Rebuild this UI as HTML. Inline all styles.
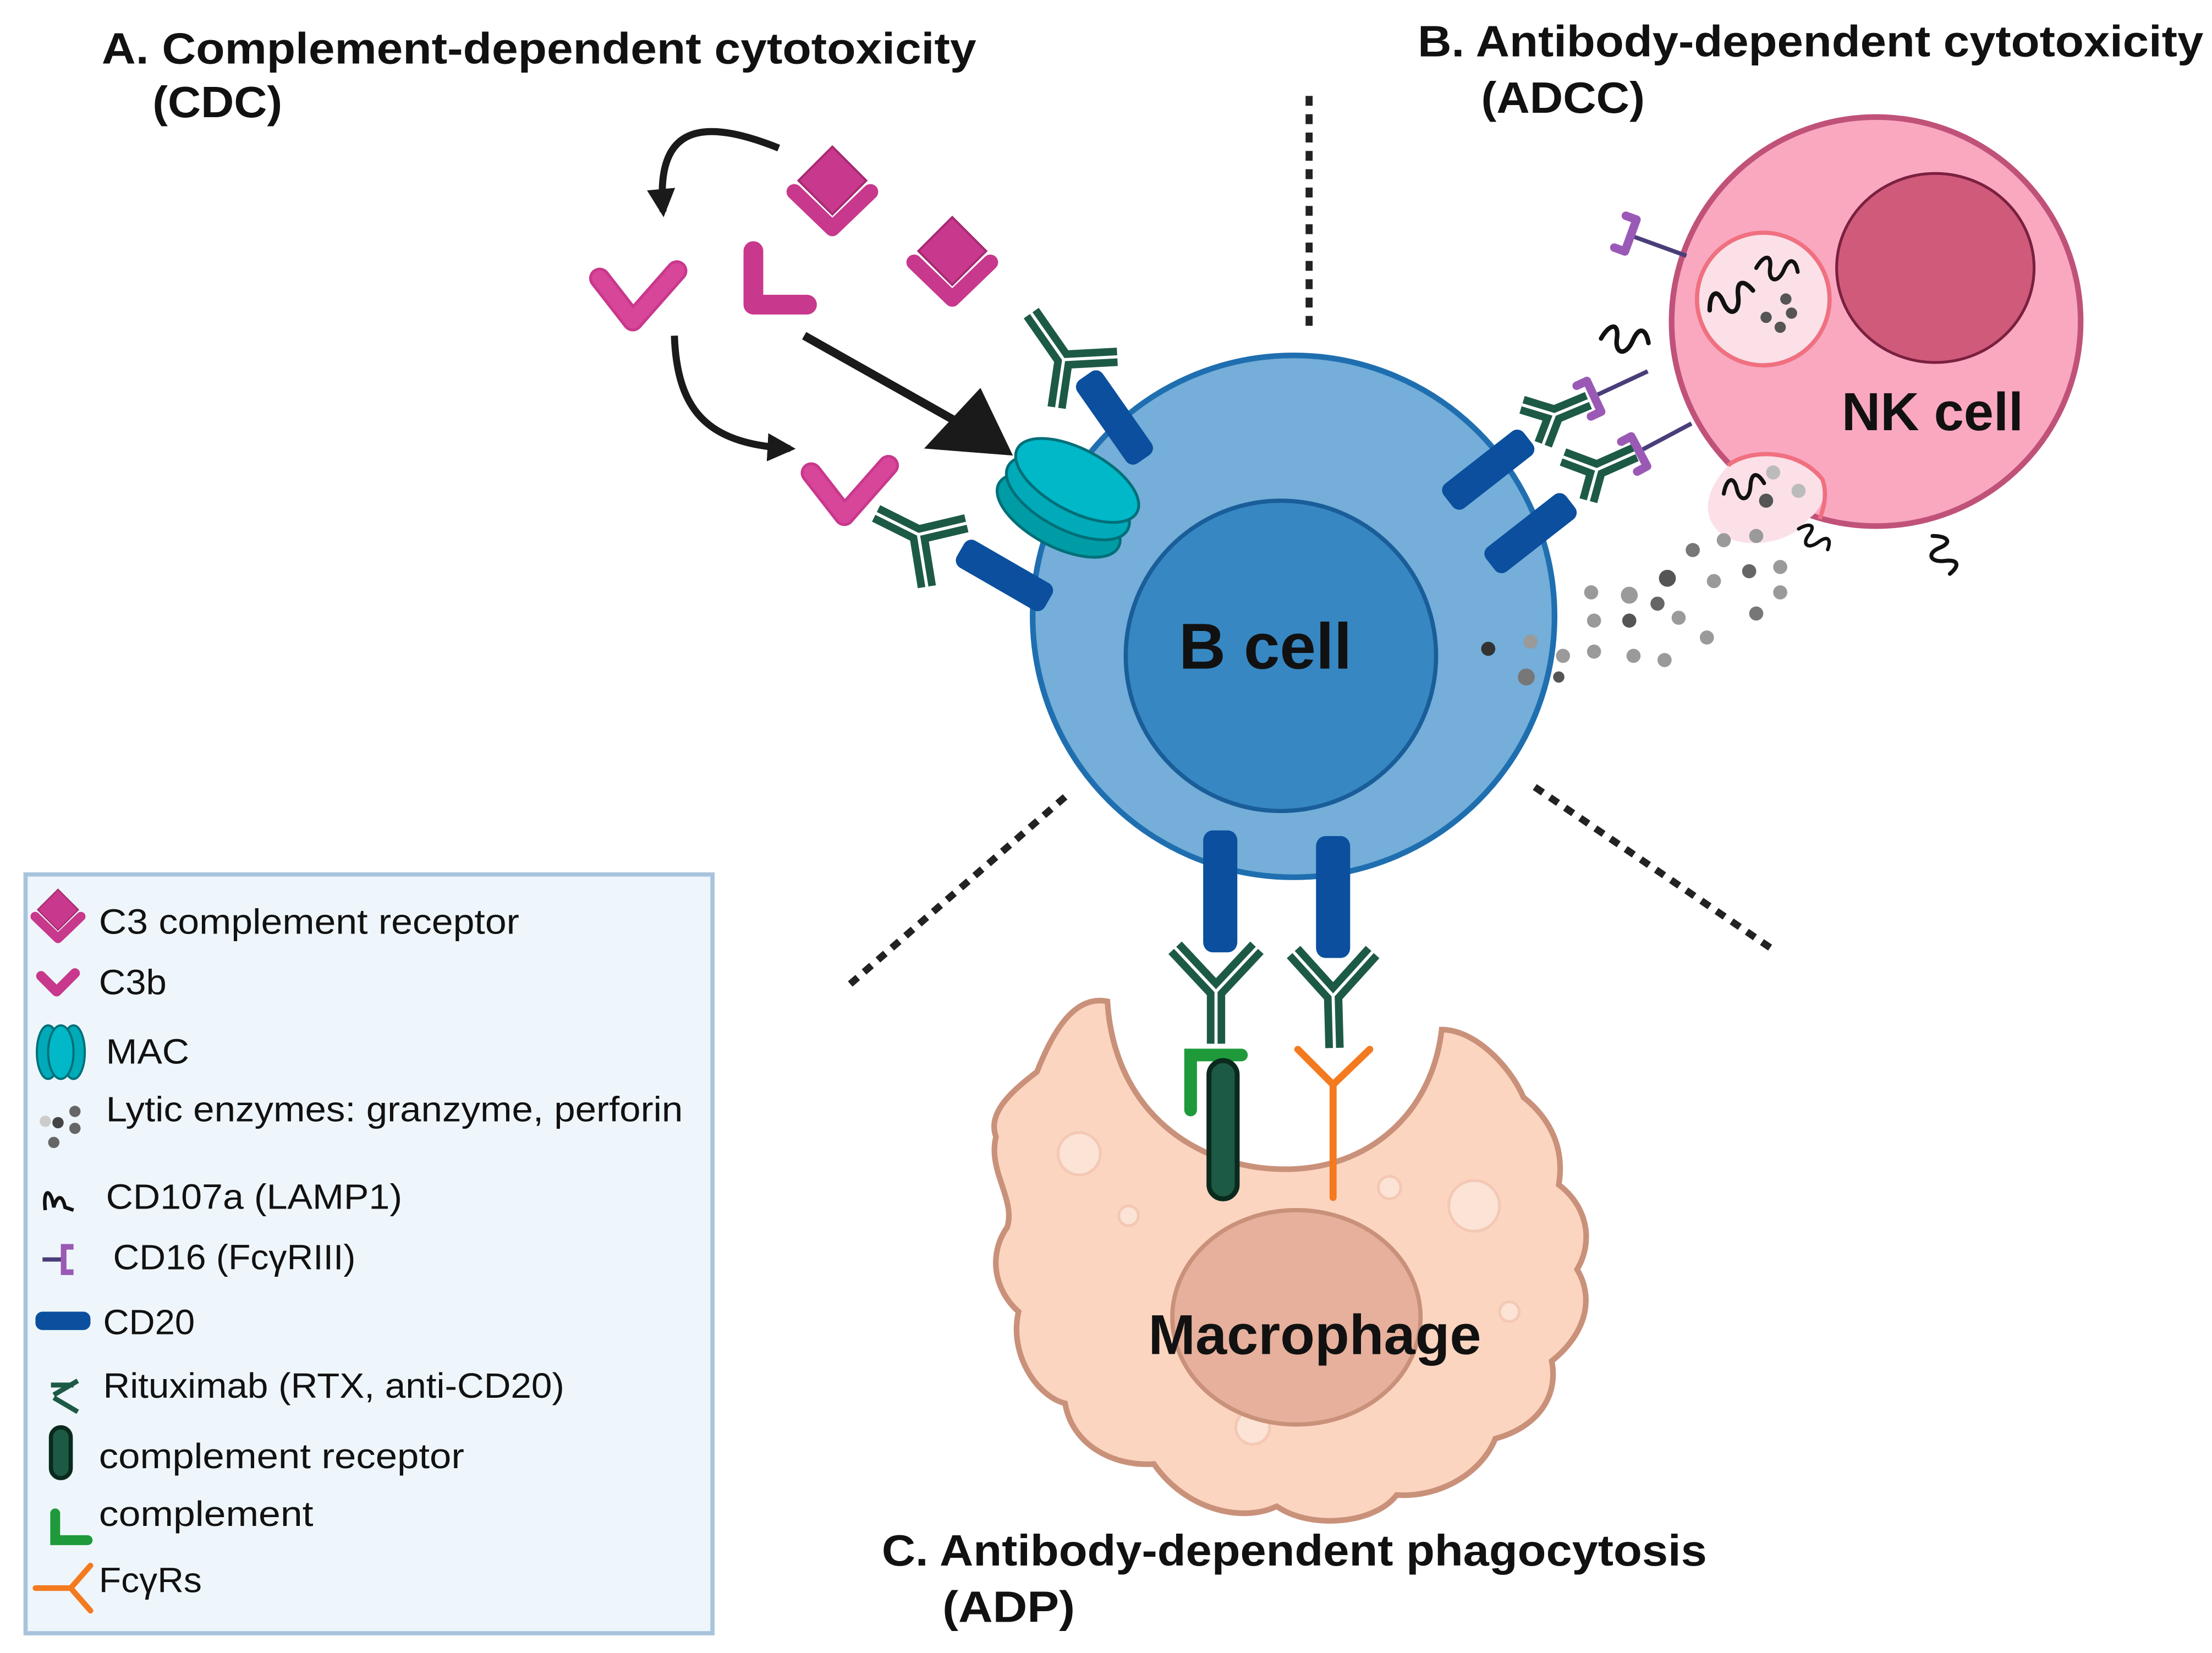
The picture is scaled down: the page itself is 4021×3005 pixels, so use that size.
<!DOCTYPE html>
<html><head><meta charset="utf-8"><style>
html,body{margin:0;padding:0;background:#fff;}
svg{display:block;}
text{font-family:"Liberation Sans",sans-serif;}
</style></head><body>
<svg width="4021" height="3005" viewBox="0 0 1568 1172" xmlns="http://www.w3.org/2000/svg">
<defs>
<g id="cd20"><rect x="-11" y="-36" width="22" height="72" rx="6" fill="#0b4f9e"/></g>
<g id="c3b"><path d="M-32,-22 L-6,6 L22,-32" fill="none" stroke="#c8388c" stroke-width="15" stroke-linejoin="round" stroke-linecap="round"/><path d="M-32,-22 L-6,6 L22,-32" fill="none" stroke="#d8469a" stroke-width="11" stroke-linejoin="round" stroke-linecap="round"/></g>
<g id="c3r"><rect x="-17" y="-17" width="34" height="34" transform="rotate(45)" fill="#c8388c" stroke="#a52a72" stroke-width="1.5"/><path d="M-27,8 L0,34 L27,8" fill="none" stroke="#c8388c" stroke-width="11" stroke-linejoin="round" stroke-linecap="round"/></g>
<g id="cd16"><path d="M0,0 L42,0" stroke="#4a3d7a" stroke-width="3"/><path d="M-8,-12 L0,-12 L0,12 L-8,12" fill="none" stroke="#9b59b6" stroke-width="6" stroke-linejoin="round" stroke-linecap="round"/></g>
<g id="wig"><path d="M0,0 C8,-14 16,-14 14,0 C12,14 22,16 28,2 C34,-12 40,-8 42,4" fill="none" stroke="#111" stroke-width="4" stroke-linecap="round"/></g>
<marker id="ah" viewBox="0 0 10 10" refX="8" refY="5" markerWidth="4" markerHeight="4" orient="auto"><path d="M0,0 L10,5 L0,10 z" fill="#1a1a1a"/></marker>
</defs>

<!-- titles -->
<text x="72" y="45" font-size="31" font-weight="bold" fill="#111" textLength="620" lengthAdjust="spacingAndGlyphs">A. Complement-dependent cytotoxicity</text>
<text x="108" y="83" font-size="31" font-weight="bold" fill="#111" textLength="92" lengthAdjust="spacingAndGlyphs">(CDC)</text>
<text x="1005" y="40" font-size="31" font-weight="bold" fill="#111" textLength="557" lengthAdjust="spacingAndGlyphs">B. Antibody-dependent cytotoxicity</text>
<text x="1050" y="80" font-size="31" font-weight="bold" fill="#111" textLength="116" lengthAdjust="spacingAndGlyphs">(ADCC)</text>
<text x="625" y="1110" font-size="31" font-weight="bold" fill="#111" textLength="585" lengthAdjust="spacingAndGlyphs">C. Antibody-dependent phagocytosis</text>
<text x="668" y="1150" font-size="31" font-weight="bold" fill="#111" textLength="94" lengthAdjust="spacingAndGlyphs">(ADP)</text>

<!-- dotted lines -->
<g stroke="#222" stroke-width="5" stroke-dasharray="7 6">
<line x1="928" y1="68" x2="928" y2="232"/>
<line x1="755" y1="565" x2="600" y2="700"/>
<line x1="1088" y1="558" x2="1255" y2="672"/>
</g>

<!-- macrophage -->
<path d="M785,710 C760,705 745,735 735,760 C715,775 700,790 706,806 C700,830 720,850 714,870 C700,890 705,915 722,930 C715,960 735,990 755,995 C760,1025 790,1040 818,1038 C840,1070 880,1080 905,1068 C930,1085 975,1080 990,1060 C1020,1062 1050,1045 1060,1020 C1090,1012 1105,990 1100,965 C1125,945 1130,920 1118,900 C1130,880 1125,855 1105,840 C1110,810 1095,790 1080,778 C1070,755 1045,730 1022,730 C1015,790 970,829 911,829 C850,829 790,790 785,710 Z" fill="#fcd5c0" stroke="#c9917a" stroke-width="4"/>
<g fill="#fbe3d6" stroke="#f4c8b4" stroke-width="2">
<circle cx="765" cy="818" r="15"/><circle cx="1045" cy="855" r="18"/><circle cx="888" cy="1012" r="12"/><circle cx="985" cy="842" r="8"/><circle cx="800" cy="862" r="7"/><circle cx="1070" cy="930" r="7"/></g>
<ellipse cx="919" cy="934" rx="88" ry="76" fill="#e6b09c" stroke="#c9917a" stroke-width="3"/>
<text x="932" y="960" font-size="40" font-weight="bold" fill="#111" text-anchor="middle" textLength="236" lengthAdjust="spacingAndGlyphs">Macrophage</text>

<!-- B cell -->
<circle cx="917" cy="437" r="185" fill="#74aed9" stroke="#1f6fb0" stroke-width="4"/>
<circle cx="908" cy="465" r="110" fill="#3787c2" stroke="#1a5e99" stroke-width="3"/>
<text x="897" y="474" font-size="46" font-weight="bold" fill="#111" text-anchor="middle">B cell</text>

<!-- CD20 -->
<use href="#cd20" transform="translate(790,296) rotate(-35)"/>
<use href="#cd20" transform="translate(712,408) rotate(-60)"/>
<use href="#cd20" transform="translate(1055,333) rotate(52)"/>
<use href="#cd20" transform="translate(1085,378) rotate(52)"/>
<use href="#cd20" transform="translate(865,632) scale(1.1,1.2)"/>
<use href="#cd20" transform="translate(945,636) scale(1.1,1.2)"/>

<!-- MAC -->
<g transform="translate(757,353) rotate(28)">
<ellipse cx="0" cy="14" rx="48" ry="22" fill="#009ca6" stroke="#006f78" stroke-width="2"/>
<ellipse cx="0" cy="0" rx="48" ry="22" fill="#00aab8" stroke="#006f78" stroke-width="2"/>
<ellipse cx="0" cy="-14" rx="48" ry="22" fill="#00b8c8" stroke="#006f78" stroke-width="2"/>
</g>

<!-- antibodies: thick green with white centre line -->
<g fill="none" stroke-linecap="butt" stroke-linejoin="miter">
<g stroke="#1d5a45" stroke-width="13">
<path d="M749,289 L754,255 L731,222 M754,255 L792,253"/>
<path d="M657,416 L651,379 L621,364 M651,379 L685,371"/>
<path d="M1094,315 L1102,294 L1079,287 M1102,294 L1126,284"/>
<path d="M1126,355 L1132,333 L1108,324 M1132,333 L1159,321"/>
<path d="M862,740 L862,703 L833,672 M862,703 L891,672"/>
<path d="M946,743 L945,706 L917,675 M945,706 L973,675"/>
</g>
<g stroke="#fff" stroke-width="2.2">
<path d="M749,289 L754,255 L731,222 M754,255 L792,253"/>
<path d="M657,416 L651,379 L621,364 M651,379 L685,371"/>
<path d="M1094,315 L1102,294 L1079,287 M1102,294 L1126,284"/>
<path d="M1126,355 L1132,333 L1108,324 M1132,333 L1159,321"/>
<path d="M862,740 L862,703 L833,672 M862,703 L891,672"/>
<path d="M946,743 L945,706 L917,675 M945,706 L973,675"/>
</g>
</g>

<!-- complement receptor and complement, FcgR -->
<path d="M844,787 V748 H880" fill="none" stroke="#1e9a3a" stroke-width="9" stroke-linecap="round"/>
<rect x="857" y="752" width="20" height="98" rx="10" fill="#1d5a45" stroke="#0a2a1e" stroke-width="3.5"/>
<path d="M945,849 V769 M920,744 L945,769 L971,744" fill="none" stroke="#f47a20" stroke-width="5" stroke-linecap="round" stroke-linejoin="round"/>

<!-- C3 shapes & arrows -->
<use href="#c3r" transform="translate(590,128)"/>
<use href="#c3r" transform="translate(675,178)"/>
<use href="#c3b" transform="translate(455,222) rotate(5)"/>
<g transform="translate(548,208)"><path d="M-14,-30 L-14,8 L24,8" fill="none" stroke="#c8388c" stroke-width="14" stroke-linejoin="round" stroke-linecap="round"/></g>
<use href="#c3b" transform="translate(605,360) rotate(5)"/>
<path d="M552,105 C490,80 465,95 470,150" fill="none" stroke="#1a1a1a" stroke-width="5" marker-end="url(#ah)"/>
<path d="M478,238 C480,295 505,315 560,318" fill="none" stroke="#1a1a1a" stroke-width="5" marker-end="url(#ah)"/>
<path d="M570,238 L680,300" stroke="#1a1a1a" stroke-width="6"/>
<path d="M655,318 L718,323 L695,275 Z" fill="#1a1a1a"/>

<!-- NK cell -->
<circle cx="1330" cy="228" r="145" fill="#f9a8c0" stroke="#c0527a" stroke-width="4"/>
<ellipse cx="1372" cy="190" rx="70" ry="67" fill="#d05a7a" stroke="#7a2040" stroke-width="2"/>
<circle cx="1250" cy="212" r="47" fill="#fbe0e8" stroke="#f07080" stroke-width="3"/>
<path d="M1225,330 C1240,318 1275,318 1292,340 C1296,352 1290,362 1282,368 C1270,385 1240,390 1222,380 C1208,370 1205,352 1225,330 Z" fill="#fbe0e8" stroke="none"/>
<path d="M1225,330 C1240,318 1275,318 1292,340 C1296,352 1292,362 1290,368" fill="none" stroke="#f07080" stroke-width="3"/>
<text x="1370" y="305" font-size="38" font-weight="bold" fill="#111" text-anchor="middle">NK cell</text>
<use href="#wig" transform="translate(1212,220) rotate(-30) scale(0.8)"/>
<use href="#wig" transform="translate(1245,190) scale(0.7)"/>
<use href="#wig" transform="translate(1135,240) scale(0.8)"/>
<use href="#wig" transform="translate(1222,350) rotate(-20) scale(0.7)"/>
<use href="#wig" transform="translate(1275,375) rotate(30) scale(0.6)"/>
<use href="#wig" transform="translate(1370,380) rotate(60) scale(0.7)"/>
<g fill="#555"><circle cx="1252" cy="225" r="4"/><circle cx="1262" cy="232" r="4"/><circle cx="1270" cy="222" r="4"/><circle cx="1266" cy="212" r="4"/><circle cx="1252" cy="355" r="5"/><circle cx="1257" cy="335" r="5" fill="#bbb"/><circle cx="1275" cy="348" r="5" fill="#bbb"/></g>
<use href="#cd16" transform="translate(1156,167) rotate(20)"/>
<use href="#cd16" transform="translate(1130,281) rotate(-25)"/>
<use href="#cd16" transform="translate(1162,320) rotate(-28)"/>

<!-- lytic enzymes -->
<g fill="#9a9a9a">
<circle cx="1055" cy="460" r="5" fill="#333"/><circle cx="1085" cy="455" r="5"/><circle cx="1082" cy="480" r="6" fill="#777"/><circle cx="1105" cy="480" r="4" fill="#555"/><circle cx="1108" cy="465" r="5"/>
<circle cx="1130" cy="440" r="5"/><circle cx="1155" cy="440" r="5" fill="#555"/><circle cx="1130" cy="462" r="5"/><circle cx="1158" cy="465" r="5"/><circle cx="1180" cy="468" r="5"/>
<circle cx="1128" cy="420" r="5"/><circle cx="1155" cy="422" r="6"/><circle cx="1182" cy="410" r="6" fill="#555"/><circle cx="1175" cy="428" r="5" fill="#666"/><circle cx="1190" cy="438" r="5"/>
<circle cx="1200" cy="390" r="5" fill="#777"/><circle cx="1215" cy="412" r="5"/><circle cx="1210" cy="452" r="5"/><circle cx="1222" cy="383" r="5"/><circle cx="1240" cy="405" r="5" fill="#666"/>
<circle cx="1245" cy="380" r="5"/><circle cx="1245" cy="435" r="5" fill="#777"/><circle cx="1262" cy="402" r="5"/><circle cx="1262" cy="420" r="5"/>
</g>

<!-- legend -->
<rect x="18" y="620" width="487" height="538" fill="#eef6fb" stroke="#a7c4dc" stroke-width="3"/>
<g font-size="25" fill="#111" lengthAdjust="spacingAndGlyphs">
<text x="70" y="662" textLength="298" lengthAdjust="spacingAndGlyphs">C3 complement receptor</text>
<text x="70" y="705" textLength="48" lengthAdjust="spacingAndGlyphs">C3b</text>
<text x="75" y="754" textLength="59" lengthAdjust="spacingAndGlyphs">MAC</text>
<text x="75" y="795" textLength="409" lengthAdjust="spacingAndGlyphs">Lytic enzymes: granzyme, perforin</text>
<text x="75" y="857" textLength="210" lengthAdjust="spacingAndGlyphs">CD107a (LAMP1)</text>
<text x="80" y="900" textLength="172" lengthAdjust="spacingAndGlyphs">CD16 (FcγRIII)</text>
<text x="73" y="946" textLength="65" lengthAdjust="spacingAndGlyphs">CD20</text>
<text x="73" y="991" textLength="327" lengthAdjust="spacingAndGlyphs">Rituximab (RTX, anti-CD20)</text>
<text x="70" y="1041" textLength="259" lengthAdjust="spacingAndGlyphs">complement receptor</text>
<text x="70" y="1082" textLength="152" lengthAdjust="spacingAndGlyphs">complement</text>
<text x="70" y="1129" textLength="73" lengthAdjust="spacingAndGlyphs">FcγRs</text>
</g>
<g transform="translate(41,645) scale(0.6)"><use href="#c3r"/></g>
<path d="M29,692 L40,703 L53,690" fill="none" stroke="#c8388c" stroke-width="7" stroke-linecap="round" stroke-linejoin="round"/>
<g><ellipse cx="34" cy="746" rx="8" ry="19" fill="#00aab8" stroke="#006f78" stroke-width="1.5"/><ellipse cx="52" cy="746" rx="8" ry="19" fill="#00aab8" stroke="#006f78" stroke-width="1.5"/><ellipse cx="43" cy="746" rx="9" ry="19" fill="#00b8c8" stroke="#006f78" stroke-width="1.5"/></g>
<g fill="#666"><circle cx="32" cy="795" r="4" fill="#ccc"/><circle cx="41" cy="796" r="4" fill="#444"/><circle cx="53" cy="788" r="4"/><circle cx="53" cy="800" r="4"/><circle cx="38" cy="810" r="4"/></g>
<path d="M32,858 C30,842 36,842 38,856 C40,848 44,846 46,856 L52,858" fill="none" stroke="#111" stroke-width="2.5"/>
<path d="M30,893 H45" stroke="#4a3d7a" stroke-width="3"/>
<path d="M52,884 H45 V902 H52" fill="none" stroke="#9b59b6" stroke-width="4"/>
<rect x="25" y="930" width="39" height="13" rx="5" fill="#0b4f9e"/>
<path d="M36,982 H52 M38,989 L55,979 M38,991 L55,1001" fill="none" stroke="#1d5a45" stroke-width="3.5"/>
<rect x="36" y="1012" width="14" height="36" rx="7" fill="#1d5a45" stroke="#0a2a1e" stroke-width="3"/>
<path d="M39,1073 V1092 H62" fill="none" stroke="#1e9a3a" stroke-width="7" stroke-linecap="round"/>
<path d="M25,1126 H50 M64,1110 L50,1126 L64,1142" fill="none" stroke="#f47a20" stroke-width="4" stroke-linecap="round" stroke-linejoin="round"/>
</svg>
</body></html>
